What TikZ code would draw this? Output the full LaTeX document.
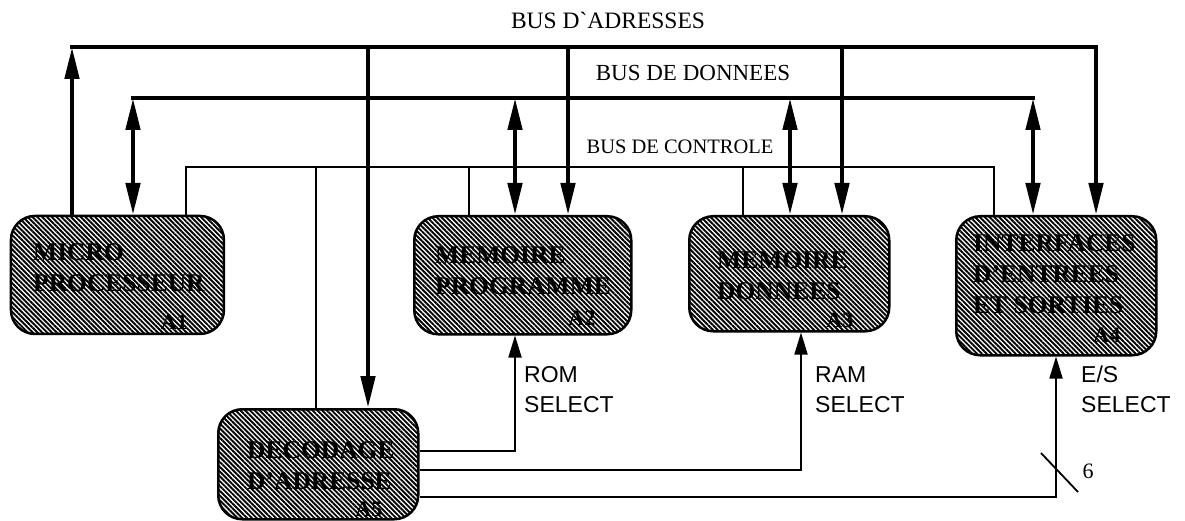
\documentclass[tikz,border=0pt]{standalone}
\usepackage{fontspec}
\setmainfont{Liberation Serif}
\setsansfont{Liberation Sans}
\usetikzlibrary{arrows.meta,patterns.meta}

\tikzset{
	blk/.style={draw, line width=2.5pt, rounded corners=24pt, anchor=north west,
		pattern={Lines[angle=-45,distance=3.4pt,line width=1.9pt]}},
	blktxt/.style={font=\fontsize{25.5}{31}\selectfont\bfseries, align=left, anchor=north west, inner sep=0pt},
	tag/.style={font=\fontsize{22}{24}\selectfont\bfseries, anchor=east, inner sep=0pt},
	abus/.style={line width=4.5pt, line cap=rect},
	dbus/.style={line width=4.5pt, line cap=rect},
	cbus/.style={line width=1.5pt},
	sel/.style={line width=1.8pt},
	buslbl/.style={inner sep=0pt},
	sellbl/.style={font=\sffamily\fontsize{23}{30}\selectfont, align=left, anchor=north west, inner sep=0pt},
	>={Triangle[length=32pt,width=14pt]}
}

\begin{document}
\begin{tikzpicture}[x=1pt,y=-1pt]
		\useasboundingbox (0,0) rectangle (1185,521);
		% blocks
		\node[blk, minimum width=213pt, minimum height=118pt] (mp) at (10,215) {};
		\node[blk, minimum width=217pt, minimum height=118pt] (rom) at (413,215) {};
		\node[blk, minimum width=200pt, minimum height=115pt] (ram) at (688,215) {};
		\node[blk, minimum width=200pt, minimum height=139pt] (io) at (955,215) {};
		\node[blk, minimum width=200pt, minimum height=110pt] (dec) at (217,408) {};
		\foreach \b/\dx/\dy/\t in {mp/23/28/{MICRO\\PROCESSEUR}, rom/22/31/{MEMOIRE\\PROGRAMME},
				ram/29/36/{MEMOIRE\\DONNEES}, io/18/19/{INTERFACES\\D'ENTREES\\ET SORTIES},
				dec/30/33/{DECODAGE\\D'ADRESSE}} {
			\node[blktxt] (\b-txt) at ([xshift=\dx pt,yshift=-\dy pt]\b.north west) {\t};
		}
		\foreach \b/\t/\dy in {mp/A1/13, rom/A2/17, ram/A3/12, io/A4/21, dec/A5/11} {
			\node[tag] (\b-tag) at ([xshift=-37pt,yshift=\dy pt]\b.south east) {\t};
		}
		% buses
		\coordinate (aL) at (72,47);   \coordinate (aR) at (1096,47);
		\coordinate (dL) at (133,98);  \coordinate (dR) at (1033,98);
		\coordinate (cL) at (186,167); \coordinate (cR) at (994,167);
		\draw[abus] (aL) -- (aR);
		\draw[abus,->] (mp.north -| aL) -- (aL);
		\draw[abus,->] (aR) -- (io.north -| aR);
		\draw[dbus] (dL) -- (dR);
		\draw[dbus,<->] (mp.north -| dL) -- (dL);
		\draw[dbus,<->] (dR) -- (io.north -| dR);
		\draw[cbus] (mp.north -| cL) -- (cL) -- (cR) -- (io.north -| cR);
		\foreach \b/\c/\d/\a in {rom/469/515/568, ram/743/790/842} {
			\draw[cbus] (cL -| \c,0) -- (\b.north -| \c,0);
			\draw[dbus,<->] (dL -| \d,0) -- (\b.north -| \d,0);
			\draw[abus,->] (aL -| \a,0) -- (\b.north -| \a,0);
		}
		\draw[cbus] (cL -| 316,0) -- (dec.north -| 316,0);
		\draw[abus,->] (aL -| 368,0) -- (dec.north -| 368,0);
		\node[buslbl, font=\fontsize{23.5}{25}\selectfont] (albl) at (608,20) {BUS D\textasciigrave ADRESSES};
		\node[buslbl, font=\fontsize{23}{25}\selectfont] (dlbl) at (693,73) {BUS DE DONNEES};
		\node[buslbl, font=\fontsize{20.5}{22}\selectfont] (clbl) at (680,147) {BUS DE CONTROLE};
		% select lines
		\draw[sel,-{Triangle[length=22pt,width=13pt]}] (dec.east |- 0,451) -| (rom.south -| 515,0);
		\draw[sel,-{Triangle[length=22pt,width=13pt]}] (dec.east |- 0,470) -| (ram.south -| 801,0);
		\draw[sel,-{Triangle[length=22pt,width=13pt]}] (dec.east |- 0,497) -| (io.south -| 1056,0);
		\draw[sel] (1041,453) -- (1078,492);
		\node[font=\fontsize{22}{24}\selectfont] (six) at (1088,471) {6};
		\node[sellbl] (romlbl) at (524,366) {ROM\\SELECT};
		\node[sellbl] (ramlbl) at (815,366) {RAM\\SELECT};
		\node[sellbl] (iolbl) at (1081,366) {E/S\\SELECT};
\end{tikzpicture}
\end{document}
